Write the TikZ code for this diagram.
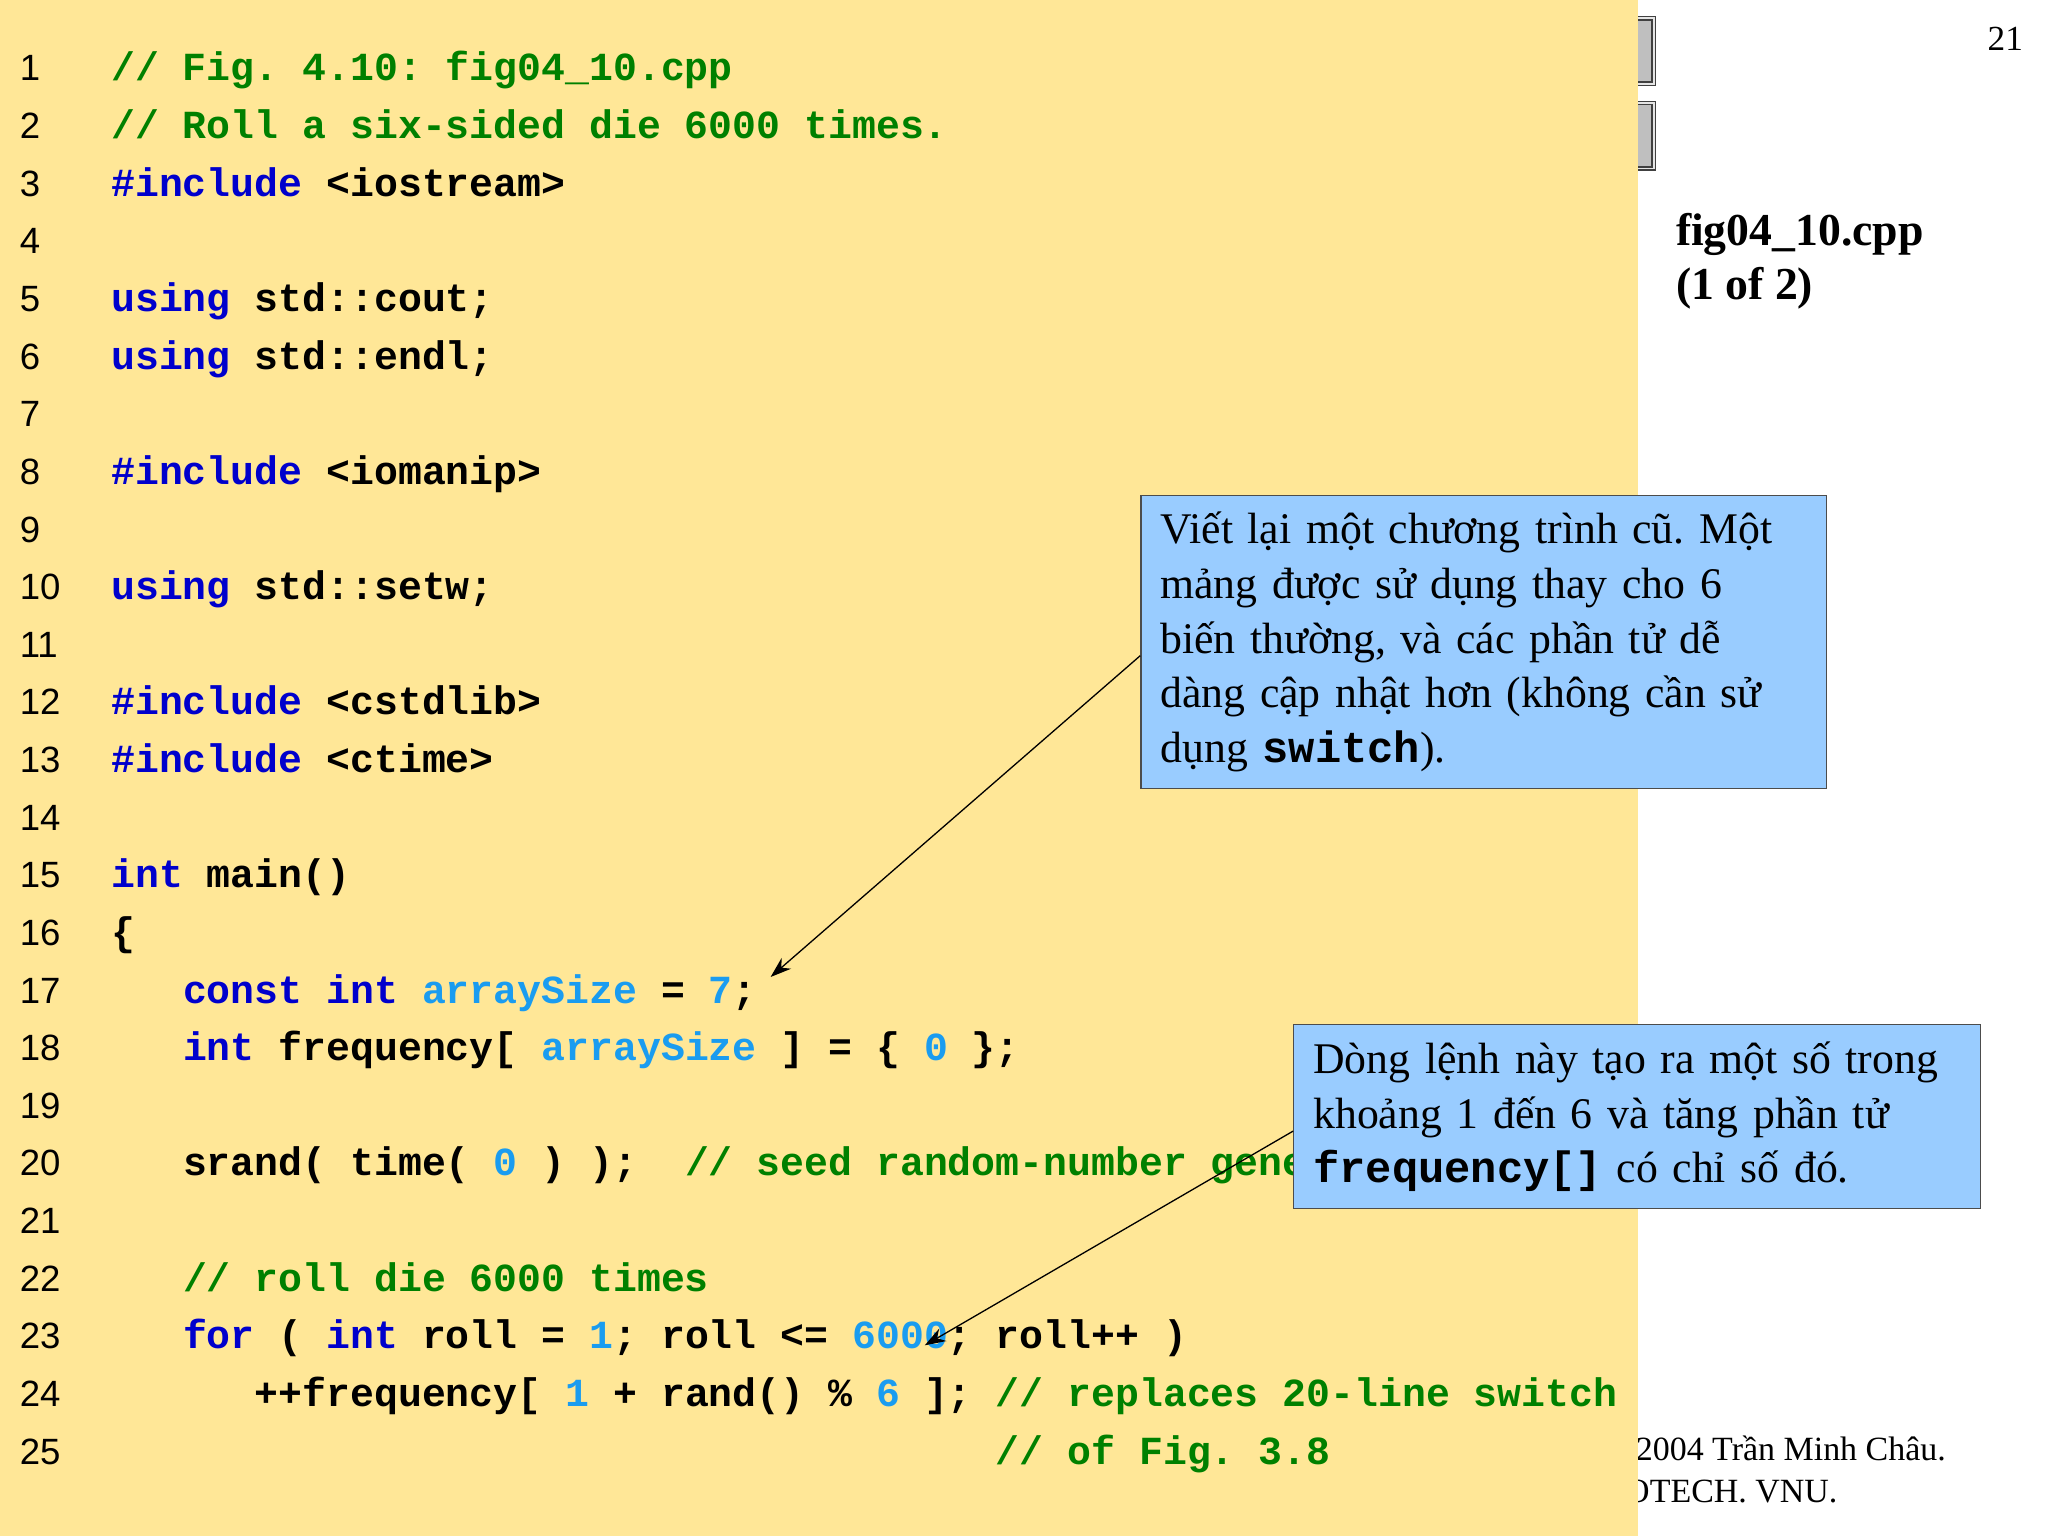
\documentclass[tikz,border=0pt]{standalone}
\usepackage{fontspec}
\setmainfont{Liberation Serif}
\setsansfont{Liberation Sans}
\setmonofont{Liberation Mono}
\usetikzlibrary{arrows.meta}
\definecolor{bgy}{HTML}{FFE797}
\definecolor{kwc}{HTML}{0000CC}
\definecolor{cmc}{HTML}{008000}
\definecolor{nmc}{HTML}{1A9CF0}
\definecolor{boxc}{HTML}{99CCFF}
\newcommand{\kw}[1]{\textcolor{kwc}{#1}}
\newcommand{\cm}[1]{\textcolor{cmc}{#1}}
\newcommand{\nm}[1]{\textcolor{nmc}{#1}}
\begin{document}\frenchspacing
\begin{tikzpicture}[x=1pt,y=-1pt,
  code/.style={anchor=base west,inner sep=0pt,font=\fontsize{30.5}{36}\ttfamily\bfseries},
  num/.style={anchor=base west,inner sep=0pt,font=\fontsize{28}{34}\sffamily},
  callout/.style={draw=black!70,line width=1pt,fill=boxc,anchor=north west,align=left,inner xsep=15pt,inner ysep=6pt,font=\fontsize{33.5}{42}\selectfont},
  btn/.style={draw=black!75,fill=black!25,double=black!10,double distance=1.5pt,line width=1pt,minimum width=28pt,minimum height=50pt,inner sep=0pt},
  arr/.style={line width=1pt,-{Stealth[length=16pt,width=11pt]}}]
\useasboundingbox (0,0) rectangle (1568,1176);
\fill[white] (0,0) rectangle (1568,1176);
% buttons and footer (partially hidden under the panel)
\node[btn] (b1) at (1252,39) {};
\node[btn] (b2) at (1252,104) {};
\node[anchor=base east,inner sep=0pt,font=\fontsize{26}{30}\selectfont] (f1) at (1490,1118) {© 2004 Trần Minh Châu.};
\node[anchor=base east,inner sep=0pt,font=\fontsize{26}{30}\selectfont] (f2) at (1407,1150) {FOTECH. VNU.};
\fill[bgy] (0,0) rectangle (1254,1176);
\node[anchor=base east,inner sep=0pt,font=\fontsize{27}{30}\selectfont] (pg) at (1549,39) {21};
\node[anchor=base west,inner sep=0pt,font=\fontsize{35}{41}\selectfont\bfseries] (fn) at (1283,188) {fig04\_10.cpp};
\node[anchor=base west,inner sep=0pt,font=\fontsize{35}{41}\selectfont\bfseries] (fp) at (1283,229) {(1 of 2)};
% line numbers
\foreach \n in {1,...,25}{
  \node[num] (n\n) at (15,{62+44.12*(\n-1)}) {\n};
}
\newcommand{\cl}[2]{\node[code] (c#1) at (85,{62+44.12*(#1-1)}) {#2};}
\cl{1}{\cm{// Fig. 4.10: fig04\_10.cpp}}
\cl{2}{\cm{// Roll a six-sided die 6000 times.}}
\cl{3}{\kw{\#include} <iostream>}
\cl{5}{\kw{using} std::cout;}
\cl{6}{\kw{using} std::endl;}
\cl{8}{\kw{\#include} <iomanip>}
\cl{10}{\kw{using} std::setw;}
\cl{12}{\kw{\#include} <cstdlib>}
\cl{13}{\kw{\#include} <ctime>}
\cl{15}{\kw{int} main()}
\cl{16}{\{}
\cl{17}{~~~\kw{const int} \nm{arraySize} = \nm{7};}
\cl{18}{~~~\kw{int} frequency[ \nm{arraySize} ] = \{ \nm{0} \};}
\cl{20}{~~~srand( time( \nm{0} ) );~~\cm{// seed random-number generator}}
\cl{22}{~~~\cm{// roll die 6000 times}}
\cl{23}{~~~\kw{for} ( \kw{int} roll = \nm{1}; roll <= \nm{6000}; roll++ )}
\cl{24}{~~~~~~++frequency[ \nm{1} + rand() \% \nm{6} ]; \cm{// replaces 20-line switch}}
\cl{25}{~~~~~~~~~~~~~~~~~~~~~~~~~~~~~~~~~~~~~\cm{// of Fig. 3.8}}
% callouts
\node[callout,text width=495pt,minimum height=224pt] (box1) at (873,379)
 {Viết lại một chương trình cũ. Một mảng được sử dụng thay cho 6 biến thường, và các phần tử dễ dàng cập nhật hơn (không cần sử dụng {\ttfamily\bfseries switch}).};
\node[callout,text width=496pt,minimum height=141pt] (box2) at (990,784)
 {Dòng lệnh này tạo ra một số trong khoảng 1 đến 6 và tăng phần tử {\ttfamily\bfseries frequency[]} có chỉ số đó.};
\coordinate (t1) at (590,748);
\coordinate (t2) at (708,1030);
\draw[arr] (box1.west |- 0,502) -- (t1);
\draw[arr] (box2.west |- 0,866) -- (t2);
\end{tikzpicture}
\end{document}
